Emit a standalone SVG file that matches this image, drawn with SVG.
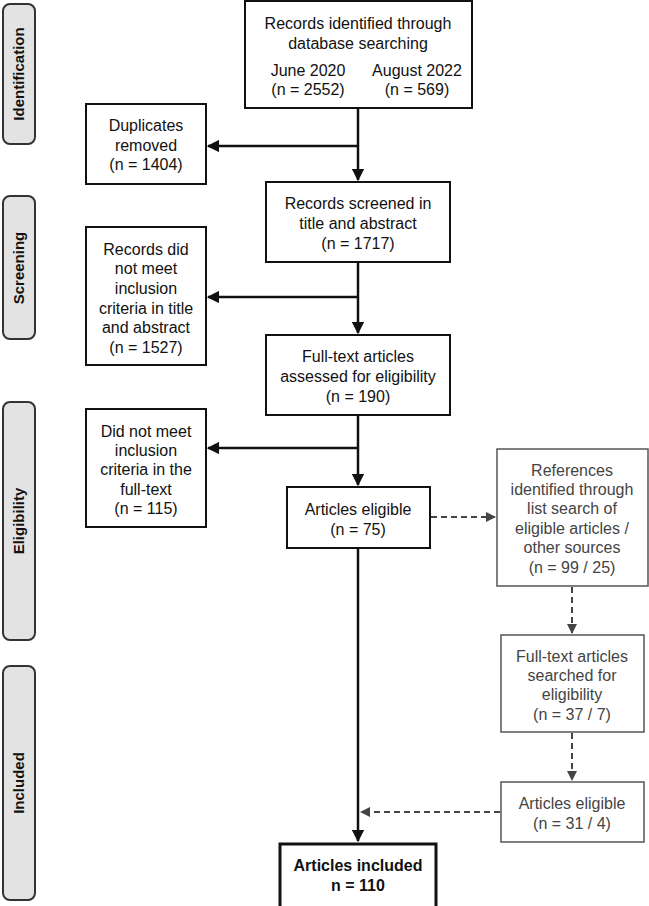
<svg xmlns="http://www.w3.org/2000/svg" width="649" height="906" viewBox="0 0 649 906">
<style>
text{font-family:"Liberation Sans",Arial,sans-serif;font-size:16px;text-anchor:middle;fill:#111}
.b{fill:#fff;stroke:#111;stroke-width:2}
.g{fill:#fff;stroke:#555;stroke-width:1.5}
.gt text{fill:#444}
.side{fill:#e3e3e3;stroke:#333;stroke-width:2}
.st{font-weight:bold;font-size:15px}
.ln{stroke:#111;stroke-width:2.5;fill:none}
.dl{stroke:#444;stroke-width:2;fill:none;stroke-dasharray:6,4}
</style>
<defs>
<marker id="a" viewBox="0 0 10 10" refX="9" refY="5" markerWidth="5" markerHeight="5" orient="auto"><path d="M0,0L10,5L0,10z" fill="#111"/></marker>
<marker id="d" viewBox="0 0 10 10" refX="9" refY="5" markerWidth="5" markerHeight="5" orient="auto"><path d="M0,0L10,5L0,10z" fill="#444"/></marker>
</defs>
<g id="phases">
<rect class="side" x="3" y="4" width="32" height="140" rx="7"/><text class="st" transform="translate(24,74) rotate(-90)">Identification</text>
<rect class="side" x="3" y="196" width="32" height="143" rx="7"/><text class="st" transform="translate(24,268) rotate(-90)">Screening</text>
<rect class="side" x="3" y="402" width="32" height="238" rx="7"/><text class="st" transform="translate(24,521) rotate(-90)">Eligibility</text>
<rect class="side" x="3" y="666" width="32" height="234" rx="7"/><text class="st" transform="translate(24,783) rotate(-90)">Included</text>
</g>
<g id="connectors">
<line class="ln" x1="358" y1="108" x2="358" y2="180" marker-end="url(#a)"/>
<line class="ln" x1="358" y1="146" x2="208" y2="146" marker-end="url(#a)"/>
<line class="ln" x1="358" y1="262" x2="358" y2="333" marker-end="url(#a)"/>
<line class="ln" x1="358" y1="297" x2="208" y2="297" marker-end="url(#a)"/>
<line class="ln" x1="358" y1="415" x2="358" y2="485" marker-end="url(#a)"/>
<line class="ln" x1="358" y1="448" x2="208" y2="448" marker-end="url(#a)"/>
<line class="ln" x1="358" y1="548" x2="358" y2="841" marker-end="url(#a)"/>
<line class="dl" x1="431" y1="517" x2="495" y2="517" marker-end="url(#d)"/>
<line class="dl" x1="572" y1="587" x2="572" y2="633" marker-end="url(#d)"/>
<line class="dl" x1="572" y1="733" x2="572" y2="780" marker-end="url(#d)"/>
<line class="dl" x1="500" y1="812" x2="361" y2="812" marker-end="url(#d)"/>
</g>
<g id="n1"><rect class="b" x="245" y="1" width="227" height="107"/>
<text x="358" y="29">Records identified through</text><text x="358" y="49">database searching</text>
<text x="308" y="76">June 2020</text><text x="308" y="95">(n = 2552)</text>
<text x="417" y="76">August 2022</text><text x="417" y="95">(n = 569)</text></g>
<g id="n2"><rect class="b" x="86" y="104" width="120" height="80"/>
<text x="146" y="131">Duplicates</text><text x="146" y="151">removed</text><text x="146" y="170">(n = 1404)</text></g>
<g id="n3"><rect class="b" x="266" y="182" width="184" height="80"/>
<text x="358" y="209">Records screened in</text><text x="358" y="229">title and abstract</text><text x="358" y="249">(n = 1717)</text></g>
<g id="n4"><rect class="b" x="86" y="227" width="120" height="138"/>
<text x="146" y="255">Records did</text><text x="146" y="274">not meet</text><text x="146" y="294">inclusion</text><text x="146" y="314">criteria in title</text><text x="146" y="333">and abstract</text><text x="146" y="353">(n = 1527)</text></g>
<g id="n5"><rect class="b" x="266" y="335" width="184" height="80"/>
<text x="358" y="362">Full-text articles</text><text x="358" y="382">assessed for eligibility</text><text x="358" y="402">(n = 190)</text></g>
<g id="n6"><rect class="b" x="86" y="409" width="120" height="118"/>
<text x="146" y="437">Did not meet</text><text x="146" y="456">inclusion</text><text x="146" y="475">criteria in the</text><text x="146" y="495">full-text</text><text x="146" y="514">(n = 115)</text></g>
<g id="n7"><rect class="b" x="287" y="487" width="143" height="61"/>
<text x="358" y="515">Articles eligible</text><text x="358" y="535">(n = 75)</text></g>
<g id="n8" class="gt"><rect class="g" x="497" y="449" width="151" height="137"/>
<text x="572" y="476">References</text><text x="572" y="495">identified through</text><text x="572" y="514">list search of</text><text x="572" y="534">eligible articles /</text><text x="572" y="553">other sources</text><text x="572" y="573">(n = 99 / 25)</text></g>
<g id="n9" class="gt"><rect class="g" x="501" y="635" width="143" height="97"/>
<text x="572" y="662">Full-text articles</text><text x="572" y="681">searched for</text><text x="572" y="700">eligibility</text><text x="572" y="720">(n = 37 / 7)</text></g>
<g id="n10" class="gt"><rect class="g" x="501" y="782" width="143" height="60"/>
<text x="572" y="809">Articles eligible</text><text x="572" y="829">(n = 31 / 4)</text></g>
<g id="n11"><rect class="b" x="280" y="844" width="156" height="64" style="stroke-width:3"/>
<text x="358" y="871" style="font-weight:bold">Articles included</text><text x="358" y="891" style="font-weight:bold">n = 110</text></g>
</svg>
